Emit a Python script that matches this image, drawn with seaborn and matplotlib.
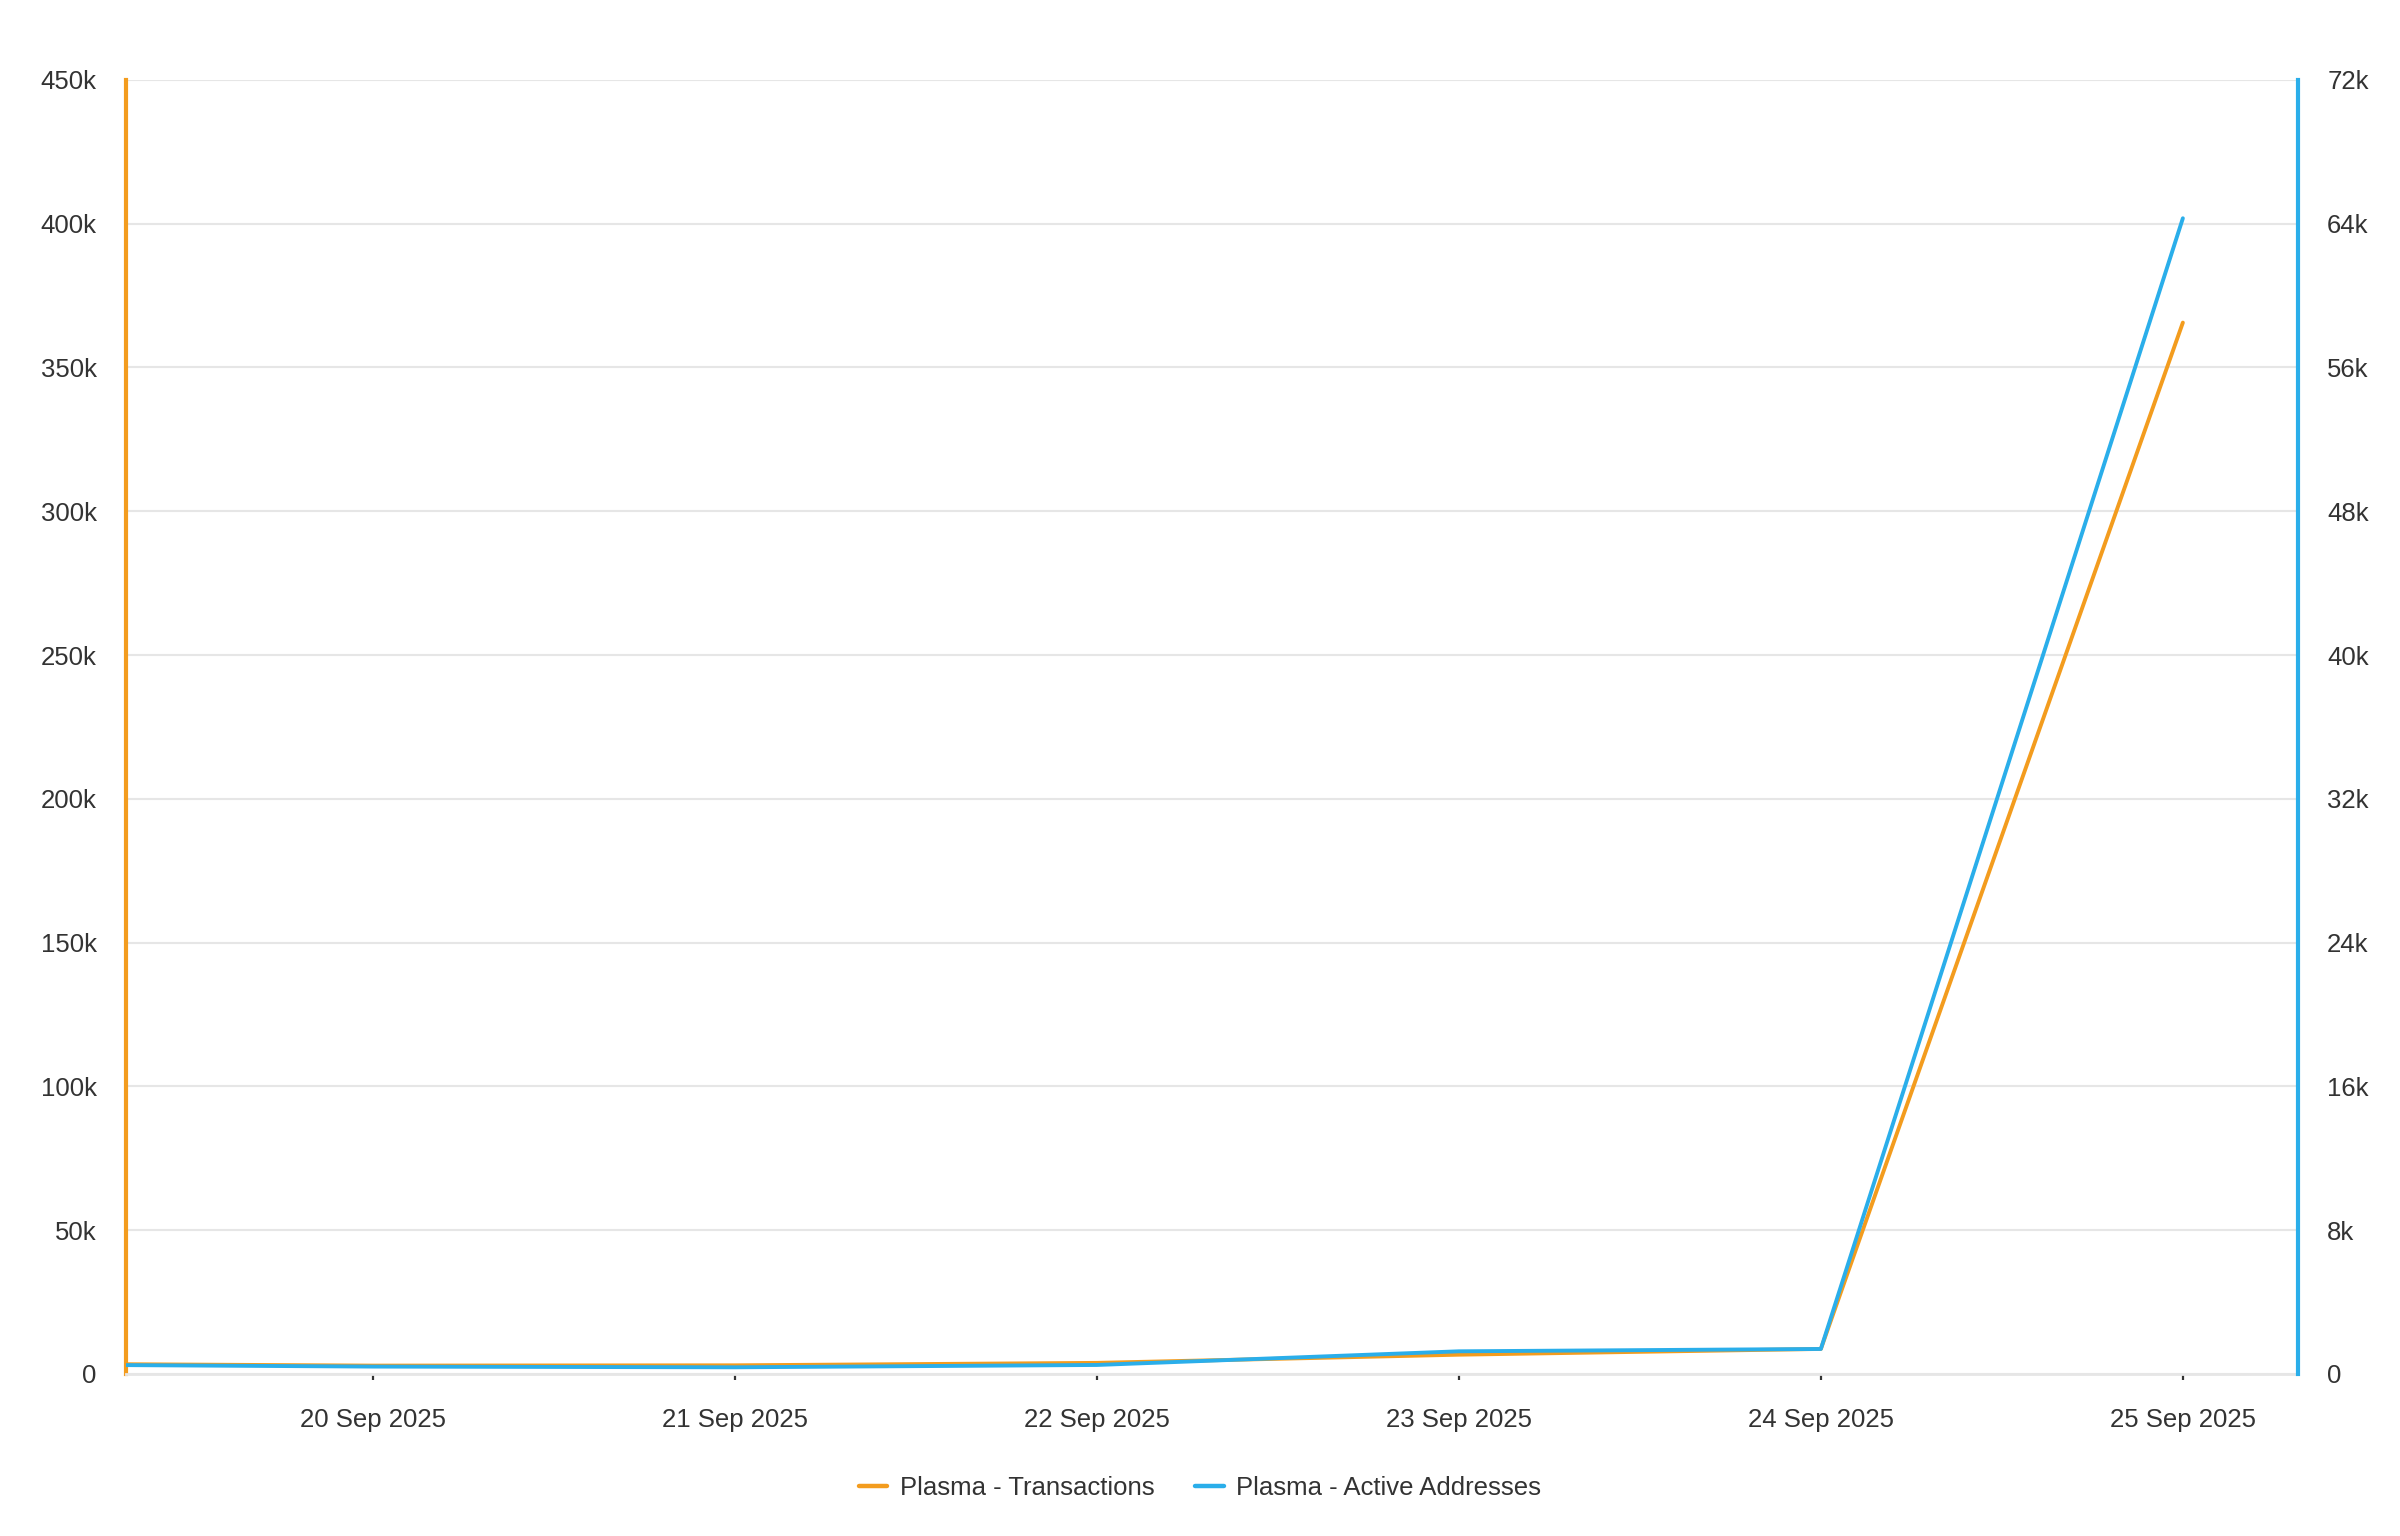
import seaborn as sns
import matplotlib.pyplot as plt
import matplotlib.dates as mdates
import pandas as pd

# daily values
dates = pd.to_datetime(["2025-09-19", "2025-09-20", "2025-09-21", "2025-09-22",
                        "2025-09-23", "2025-09-24", "2025-09-25"])
transactions = [3600, 2900, 3000, 3850, 6700, 8700, 365600]
active_addresses = [530, 410, 370, 500, 1260, 1390, 64300]

left_ticks = [0, 50000, 100000, 150000, 200000, 250000, 300000, 350000, 400000, 450000]
left_labels = ["0", "50k", "100k", "150k", "200k", "250k", "300k", "350k", "400k", "450k"]
right_ticks = [0, 8000, 16000, 24000, 32000, 40000, 48000, 56000, 64000, 72000]
right_labels = ["0", "8k", "16k", "24k", "32k", "40k", "48k", "56k", "64k", "72k"]

orange = "#f39c1e"
blue = "#2aaeea"
grid_c = "#e6e6e6"
text_c = "#333333"

df = pd.DataFrame({"date": dates, "tx": transactions, "aa": active_addresses})

sns.set_style("white")
plt.rcParams['font.family'] = ['Liberation Sans', 'DejaVu Sans']

fig = plt.figure(figsize=(24, 15.36), dpi=100)
ax = fig.add_axes([0.0525, 0.1055, 0.9050, 0.8425])
ax2 = ax.twinx()

sns.lineplot(data=df, x="date", y="tx", ax=ax, color=orange, linewidth=2.8,
             label="Plasma - Transactions", legend=False, solid_capstyle="round")
sns.lineplot(data=df, x="date", y="aa", ax=ax2, color=blue, linewidth=2.8,
             label="Plasma - Active Addresses", legend=False, solid_capstyle="round")

ax.set_xlim(pd.Timestamp("2025-09-19 07:38"), pd.Timestamp("2025-09-25 07:38"))
ax.set_ylim(0, 450000)
ax2.set_ylim(0, 72000)

ax.set_yticks(left_ticks)
ax.set_yticklabels(left_labels)
ax2.set_yticks(right_ticks)
ax2.set_yticklabels(right_labels)

ax.xaxis.set_major_locator(mdates.DayLocator())
ax.xaxis.set_major_formatter(mdates.DateFormatter("%d %b %Y"))

ax.grid(axis="y", color=grid_c, linewidth=1.5)
ax.grid(axis="x", visible=False)
ax2.grid(False)
ax.set_xlabel("")
ax.set_ylabel("")
ax2.set_ylabel("")

for a in (ax, ax2):
    a.spines["top"].set_visible(False)
ax.spines["right"].set_visible(False)
ax2.spines["left"].set_visible(False)
ax2.spines["bottom"].set_visible(False)
ax.spines["left"].set_color(orange)
ax.spines["left"].set_linewidth(3)
ax2.spines["right"].set_color(blue)
ax2.spines["right"].set_linewidth(3)
ax.spines["bottom"].set_color(grid_c)
ax.spines["bottom"].set_linewidth(2)

ax.tick_params(axis="y", length=0, pad=21, labelsize=18.5, labelcolor=text_c)
ax2.tick_params(axis="y", length=0, pad=21, labelsize=18.5, labelcolor=text_c)
ax.tick_params(axis="x", length=4.5, width=1.6, color=text_c, pad=20,
               labelsize=18.5, labelcolor=text_c, bottom=True)

h1, l1 = ax.get_legend_handles_labels()
h2, l2 = ax2.get_legend_handles_labels()
leg = fig.legend(h1 + h2, l1 + l2, loc="center", bbox_to_anchor=(0.5, 0.031),
                 ncol=2, frameon=False, fontsize=18.5, handlelength=1.1,
                 handletextpad=0.5, columnspacing=1.6)
for t in leg.get_texts():
    t.set_color(text_c)
for line in leg.get_lines():
    line.set_linewidth(3.2)

fig.savefig("out.png", dpi=100, facecolor="white")
